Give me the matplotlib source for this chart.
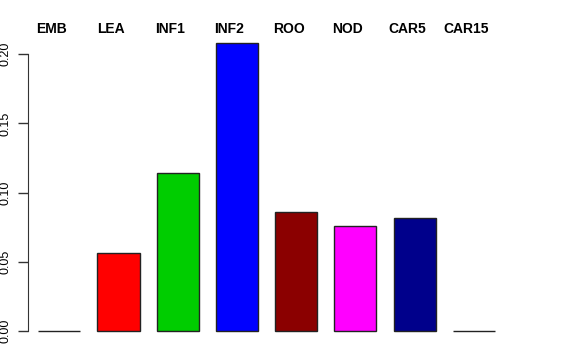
import matplotlib
matplotlib.use("Agg")
from matplotlib import pyplot as plt
import numpy as np

plt.rcParams['font.family'] = ['Liberation Sans', 'DejaVu Sans']

tissues = ['EMB', 'LEA', 'INF1', 'INF2', 'ROO', 'NOD', 'CAR5', 'CAR15']
values = [0.0, 0.0564, 0.1141, 0.2084, 0.0861, 0.0760, 0.0815, 0.0]
colors = ['black', '#FF0000', '#00CD00', '#0000FF', '#8B0000', '#FF00FF', '#00008B', 'black']
yticks = [0.00, 0.05, 0.10, 0.15, 0.20]

W, H = 576, 360
fig = plt.figure(figsize=(W / 100, H / 100), dpi=100)
# axes placed in pixel terms: x=0 spine at 28px, bottom at 331px, top of tallest bar at 43px
left, right, bottom, top = 28.3, 502.2, 330.7, 42.7
ax = fig.add_axes([left / W, 1 - bottom / H, (right - left) / W, (bottom - top) / H])

x = np.arange(len(tissues))
ax.bar(x, values, width=0.71, color=colors, edgecolor='#222222', linewidth=1.0, clip_on=False)

ax.set_xlim(-0.523, 7.477)
ax.set_ylim(0, max(values))

for s in ['top', 'right', 'bottom']:
    ax.spines[s].set_visible(False)
ax.spines['left'].set_color('#333333')
ax.spines['left'].set_bounds(0, 0.20)
ax.set_xticks([])
ax.set_yticks(yticks)
ax.set_yticklabels(['%.2f' % t for t in yticks], rotation=90, va='center', fontsize=9)
ax.tick_params(axis='y', length=7, width=1, color='#333333', pad=5)

# group names along the top
for xi, name in zip(x, tissues):
    ax.text(xi - 0.13, 1.0 + 7 / (bottom - top), name, transform=ax.get_xaxis_transform(),
            ha='center', va='bottom', fontsize=10, fontweight='bold')

fig.savefig('out.png', dpi=100)
